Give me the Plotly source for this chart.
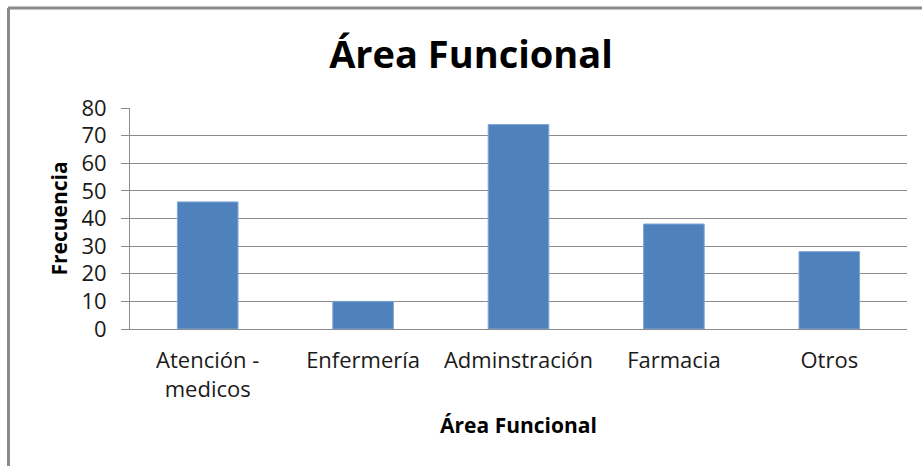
import plotly.graph_objects as go

categories = ["Atención -<br>medicos", "Enfermería", "Adminstración", "Farmacia", "Otros"]
frecuencia = [46, 10, 74, 38, 28]
y_ticks = [0, 10, 20, 30, 40, 50, 60, 70, 80]

W, H = 922, 466
ML, MR, MT, MB = 130, 15, 108, 137
PW = W - ML - MR
PH = H - MT - MB

def px_x(x):
    return (x - ML) / PW

def px_y(y):
    return (H - MB - y) / PH

FONT = "Open Sans"
GRID = "#8c8c8c"

fig = go.Figure(
    go.Bar(
        x=categories,
        y=frecuencia,
        marker=dict(color="#4F81BD", line=dict(color="#7FA6D8", width=1)),
    )
)

fig.update_layout(
    width=W,
    height=H,
    margin=dict(l=ML, r=MR, t=MT, b=MB),
    paper_bgcolor="white",
    plot_bgcolor="white",
    bargap=0.61,
    showlegend=False,
    title=dict(
        text="<b>Área Funcional</b>",
        x=471 / W,
        xref="container",
        y=1 - 55 / H,
        yref="container",
        xanchor="center",
        yanchor="middle",
        font=dict(family=FONT, size=38, color="black"),
    ),
    font=dict(family=FONT, color="#1a1a1a"),
)

fig.update_xaxes(
    showline=True,
    linecolor=GRID,
    linewidth=1,
    showgrid=False,
    ticks="",
    tickfont=dict(size=22, color="#1a1a1a"),
    ticklabelstandoff=12,
    title=dict(text="<b>Área Funcional</b>", font=dict(size=21, color="black"), standoff=16),
)

fig.update_yaxes(
    range=[0, 80],
    tickvals=y_ticks,
    showline=True,
    linecolor=GRID,
    linewidth=1,
    showgrid=True,
    gridcolor=GRID,
    gridwidth=1,
    ticks="outside",
    ticklen=8,
    tickcolor=GRID,
    tickfont=dict(size=22, color="#1a1a1a"),
    ticklabelstandoff=10,
    zeroline=False,
    title=dict(text="<b>Frecuencia</b>", font=dict(size=21, color="black"), standoff=8),
)

# outer chart border (top and left edges visible)
fig.add_shape(type="line", xref="paper", yref="paper",
              x0=px_x(8), x1=px_x(W), y0=px_y(8), y1=px_y(8),
              line=dict(color="#8a8a8a", width=3))
fig.add_shape(type="line", xref="paper", yref="paper",
              x0=px_x(8.5), x1=px_x(8.5), y0=px_y(8), y1=px_y(H),
              line=dict(color="#8a8a8a", width=3))

fig.write_html("out.html")
